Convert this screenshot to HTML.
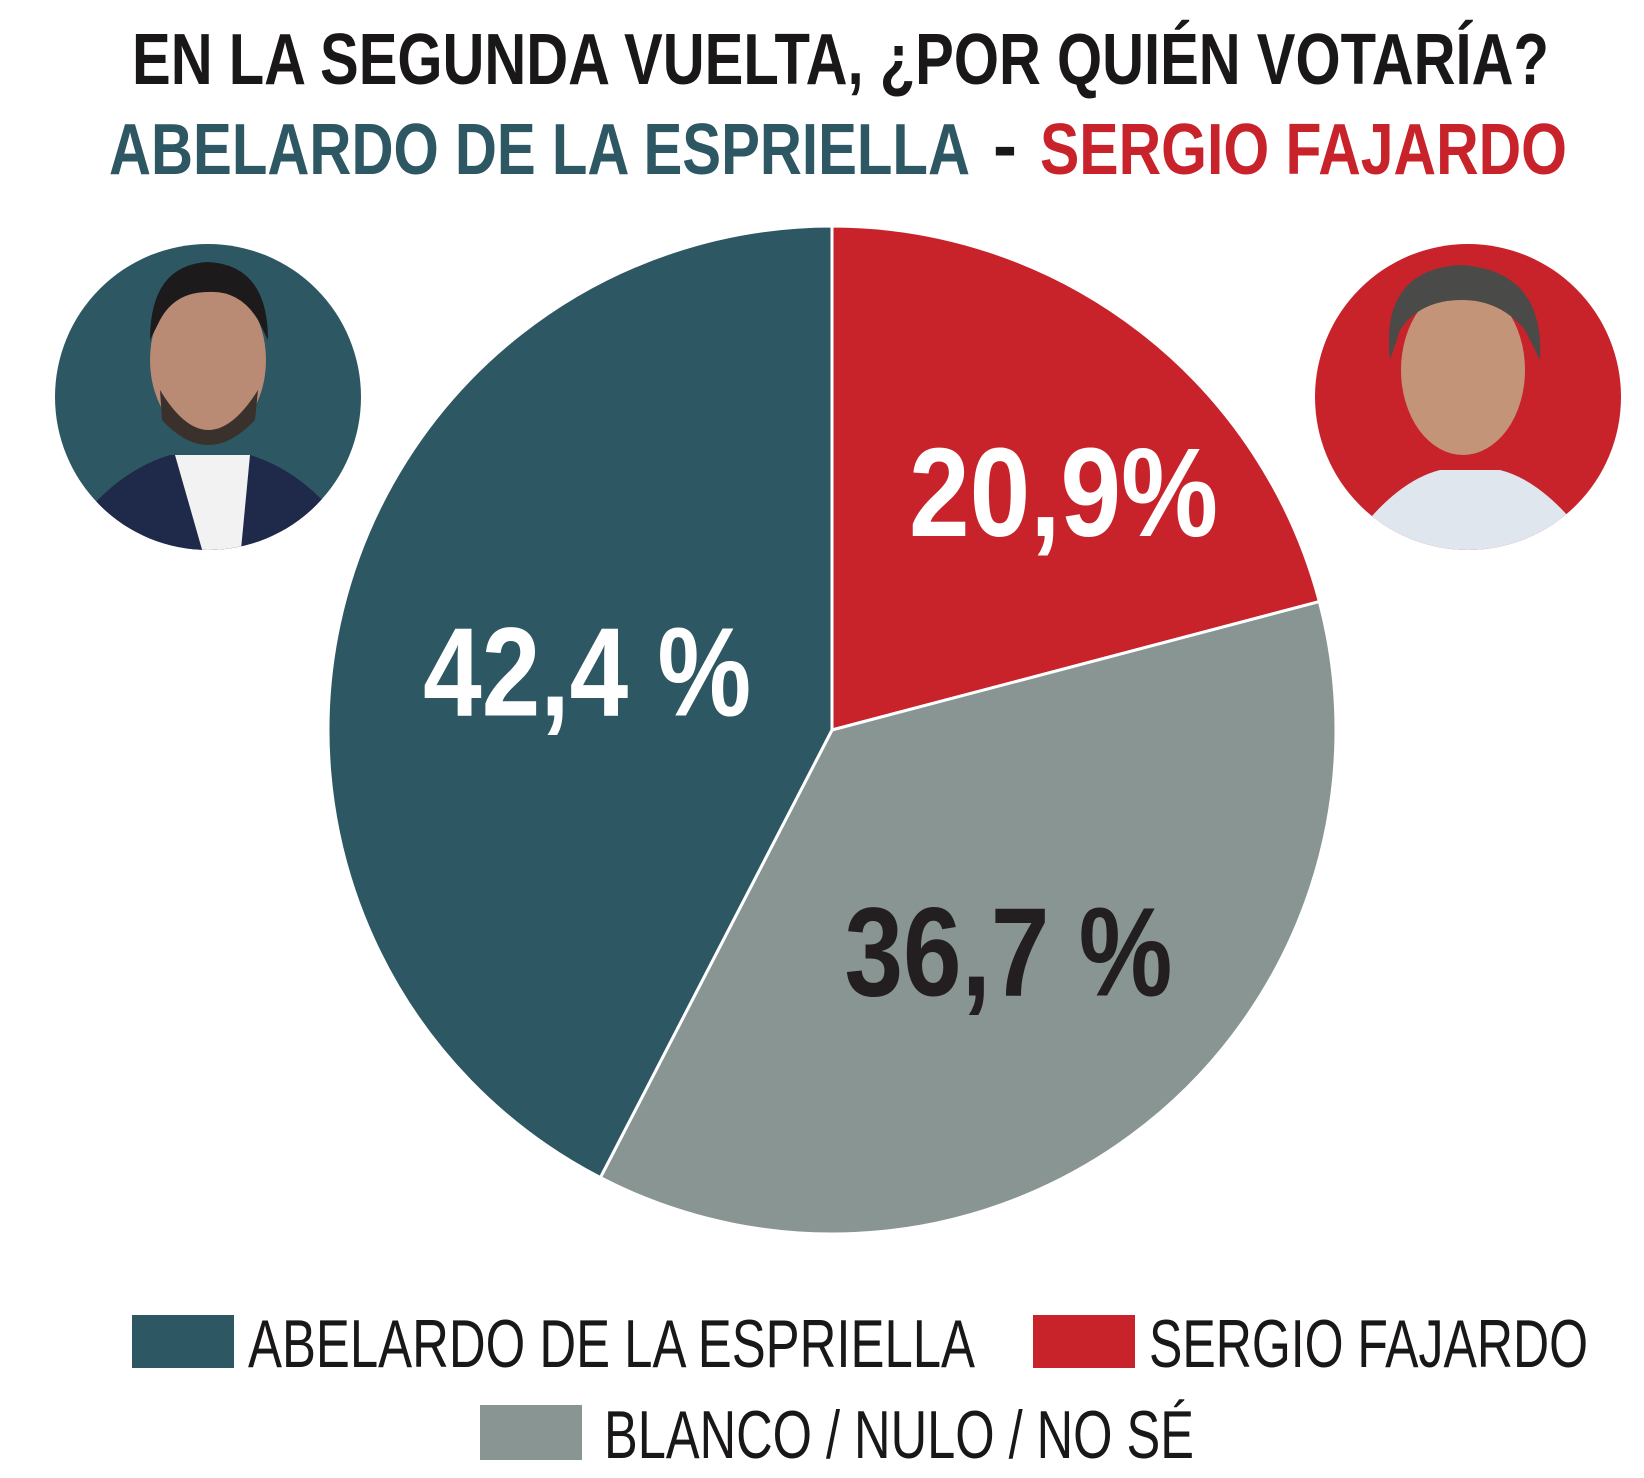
<!DOCTYPE html>
<html><head><meta charset="utf-8"><style>
html,body{margin:0;padding:0;background:#fff}
svg{display:block}
text{font-family:"Liberation Sans",sans-serif;font-weight:bold}
</style></head><body>
<svg id="chart" width="1644" height="1478" viewBox="0 0 1644 1478">
<text x="132" y="84" font-size="72" fill="#1a1718" textLength="1417" lengthAdjust="spacingAndGlyphs">EN LA SEGUNDA VUELTA, ¿POR QUIÉN VOTARÍA?</text>
<text x="109" y="174" font-size="72" fill="#2d5763" textLength="861" lengthAdjust="spacingAndGlyphs">ABELARDO DE LA ESPRIELLA</text>
<text x="993" y="170" font-size="72" fill="#1a1718">-</text>
<text x="1040" y="174" font-size="72" fill="#c8222b" textLength="527" lengthAdjust="spacingAndGlyphs">SERGIO FAJARDO</text>

<g>
<clipPath id="c1"><circle cx="208" cy="397" r="153"/></clipPath>
<circle cx="208" cy="397" r="153" fill="#2d5763"/>
<g clip-path="url(#c1)">
<path d="M80 520 Q120 470 170 455 L250 455 Q300 470 340 520 L340 560 L80 560Z" fill="#1f2a4a"/>
<path d="M175 455 L205 560 L240 560 L250 455Z" fill="#f2f2f2"/>
<ellipse cx="208" cy="360" rx="58" ry="80" fill="#b98a74"/>
<path d="M150 340 Q150 265 208 262 Q268 265 268 340 L258 320 Q240 290 208 292 Q175 292 160 320Z" fill="#1c1a1a"/>
<path d="M160 390 Q208 470 258 390 L255 420 Q208 470 162 420Z" fill="#3a302c"/>
</g></g>
<g>
<clipPath id="c2"><circle cx="1468" cy="397" r="153"/></clipPath>
<circle cx="1468" cy="397" r="153" fill="#c8222b"/>
<g clip-path="url(#c2)">
<path d="M1360 530 Q1400 480 1440 470 L1500 470 Q1540 480 1580 530 L1580 560 L1360 560Z" fill="#dfe6ee"/>
<ellipse cx="1463" cy="370" rx="62" ry="85" fill="#c49479"/>
<path d="M1390 360 Q1380 270 1460 265 Q1545 270 1540 360 L1525 330 Q1500 300 1462 300 Q1420 300 1400 330Z" fill="#4a4a48"/>
</g></g>

<g id="slices"></g>
<g id="labels"></g>

<g>
<g>
<rect x="132" y="1315" width="102" height="53" fill="#2d5763"/>
<text x="248" y="1367" font-size="68" style="font-weight:normal" fill="#1a1718" textLength="727" lengthAdjust="spacingAndGlyphs">ABELARDO DE LA ESPRIELLA</text></g>
<g>
<rect x="1033" y="1315" width="102" height="53" fill="#c8222b"/>
<text x="1149" y="1367" font-size="68" style="font-weight:normal" fill="#1a1718" textLength="439" lengthAdjust="spacingAndGlyphs">SERGIO FAJARDO</text></g>
<g>
<rect x="480" y="1405" width="102" height="55" fill="#889593"/>
<text x="604" y="1458" font-size="68" style="font-weight:normal" fill="#1a1718" textLength="590" lengthAdjust="spacingAndGlyphs">BLANCO / NULO / NO SÉ</text></g>
</g>
</svg>
<script>
const categories = ["SERGIO FAJARDO", "BLANCO / NULO / NO SÉ", "ABELARDO DE LA ESPRIELLA"];
const values = [20.9, 36.7, 42.4];
const valueLabels = ["20,9%", "36,7 %", "42,4 %"];
const colors = ["#c8222b", "#889593", "#2d5763"];
const labelColors = ["#ffffff", "#231f20", "#ffffff"];
const names = ["slice-fajardo", "slice-blanco", "slice-abelardo"];

const cx = 832, cy = 730, r = 504;
const labelRadius = [0.66, 0.56, 0.5];
const labelAngleNudge = [0.018, 0, 0];
const labelWidth = [309, 328, 328];
const NS = "http://www.w3.org/2000/svg";
const total = values.reduce((a, b) => a + b, 0);
function pt(frac, rad) {
  const a = frac * 2 * Math.PI;
  return [cx + rad * Math.sin(a), cy - rad * Math.cos(a)];
}
const sg = document.getElementById("slices");
const lg = document.getElementById("labels");
let acc = 0;
values.forEach((v, i) => {
  const f0 = acc / total, f1 = (acc + v) / total;
  acc += v;
  const p0 = pt(f0, r), p1 = pt(f1, r);
  const large = (f1 - f0) > 0.5 ? 1 : 0;
  const path = document.createElementNS(NS, "path");
  path.setAttribute("d", `M${cx},${cy} L${p0[0]},${p0[1]} A${r},${r} 0 ${large} 1 ${p1[0]},${p1[1]} Z`);
  path.setAttribute("fill", colors[i]);
  path.setAttribute("stroke", "#fff");
  path.setAttribute("stroke-width", "3");
  
  
  sg.appendChild(path);
  const mid = (f0 + f1) / 2 + labelAngleNudge[i];
  const lp = pt(mid, r * labelRadius[i]);
  const t = document.createElementNS(NS, "text");
  t.setAttribute("x", lp[0]);
  t.setAttribute("y", lp[1] + 45);
  t.setAttribute("text-anchor", "middle");
  t.setAttribute("font-size", "126");
  t.setAttribute("fill", labelColors[i]);
  t.setAttribute("textLength", labelWidth[i]);
  t.setAttribute("lengthAdjust", "spacingAndGlyphs");
  t.textContent = valueLabels[i];
  
  
  lg.appendChild(t);
});
</script>
</body></html>
